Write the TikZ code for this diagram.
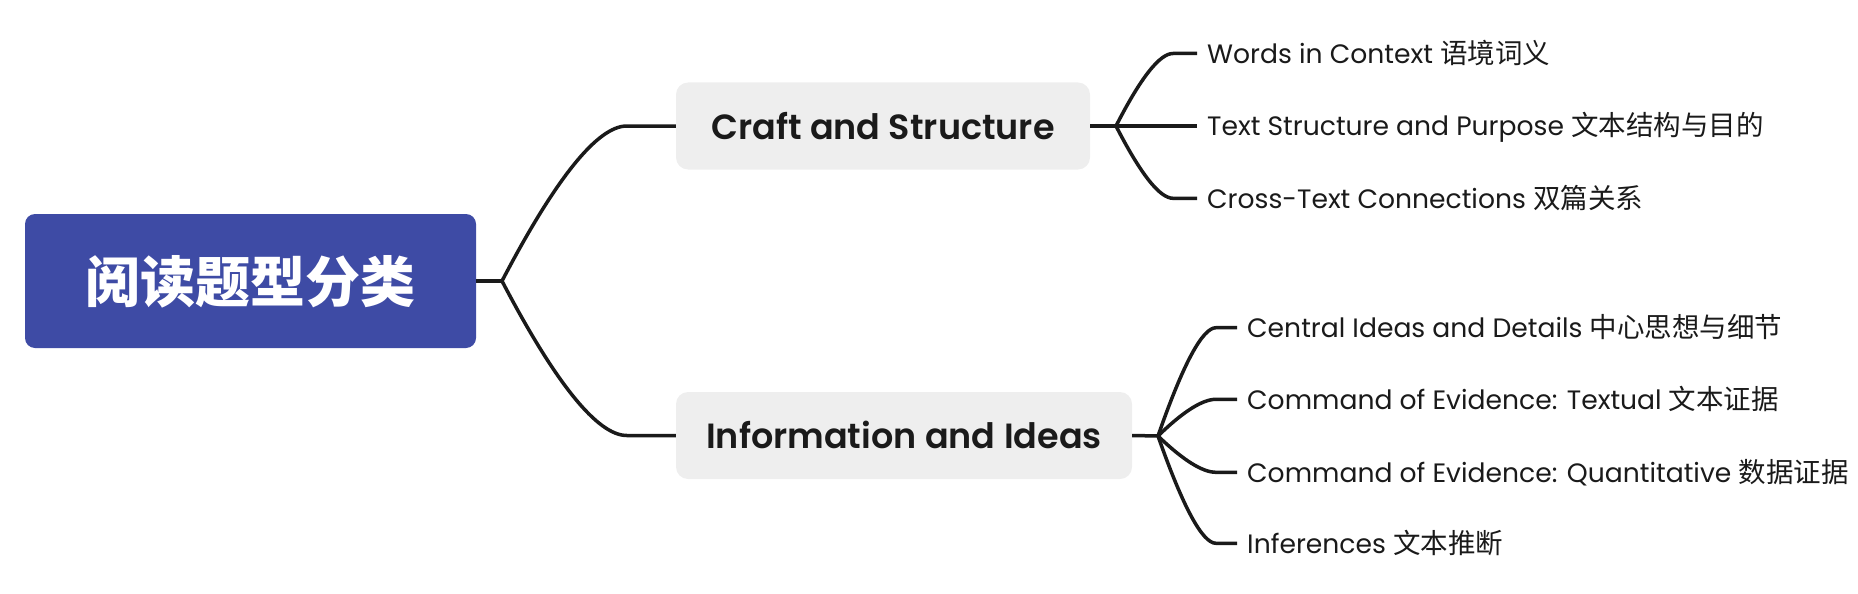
\documentclass[tikz,border=0pt]{standalone}
\usepackage{fontspec}
\setmainfont{Poppins}
\newfontfamily\headfont{Poppins SemiBold}
\newfontfamily\cjk{Noto Sans CJK SC}
\definecolor{rootblue}{HTML}{3E4BA5}
\definecolor{boxgrey}{HTML}{EEEEEE}
\definecolor{linec}{HTML}{1A1A1A}
\definecolor{textc}{HTML}{1A1A1A}
\newcommand{\zh}[1]{{\cjk\fontsize{27.5}{30}\selectfont #1}}
\tikzset{
  rootbox/.style={fill=rootblue, rounded corners=10pt, minimum width=451pt, minimum height=134pt,
    inner sep=0pt, text=white, font=\cjk\bfseries\fontsize{55}{60}\selectfont, text height=42pt, text depth=0pt},
  mainbox/.style={fill=boxgrey, rounded corners=12pt, minimum height=87pt, inner sep=0pt,
    text=textc, font=\headfont\fontsize{35}{40}\selectfont, text height=26pt, text depth=0pt},
  leaf/.style={anchor=west, inner xsep=10pt, inner ysep=0pt, text=textc,
    font=\fontsize{26.6}{30}\selectfont, text height=19.5pt, text depth=0pt},
  conn/.style={draw=linec, line width=3.5pt}
}
\begin{document}
\begin{tikzpicture}[x=1pt,y=-1pt]
\useasboundingbox (0,0) rectangle (1858,594);
% nodes
\node[rootbox] (root) at (250.5,281) {阅读题型分类};
\node[mainbox, minimum width=414pt] (craft) at (883,126) {Craft and Structure};
\node[mainbox, minimum width=456pt] (info) at (904,435.5) {Information and Ideas};
\coordinate (f0) at (502,281);
\coordinate (f1) at (1116,126);
\coordinate (f2) at (1158,436);
\node[leaf] (w1) at (1197,53.5) {Words in Context \zh{语境词义}};
\node[leaf] (w2) at (1197,126) {Text Structure and Purpose \zh{文本结构与目的}};
\node[leaf] (w3) at (1197,198.3) {Cross-Text Connections \zh{双篇关系}};
\node[leaf] (i1) at (1237,327.7) {Central Ideas and Details \zh{中心思想与细节}};
\node[leaf] (i2) at (1237,399.3) {Command of Evidence: Textual \zh{文本证据}};
\node[leaf] (i3) at (1237,472.3) {Command of Evidence: Quantitative \zh{数据证据}};
\node[leaf] (i4) at (1237,543.3) {Inferences \zh{文本推断}};
% connectors
\draw[conn] (root.east) -- (f0);
\draw[conn] (f0) .. controls +(54,-103.3) and +(-29,0) .. ([xshift=-49pt]craft.west) -- (craft.west);
\draw[conn] (f0) .. controls +(54,103.3) and +(-29,0) .. ([xshift=-49pt]info.west) -- (info.west);
\draw[conn] (craft.east) -- (f1);
\draw[conn] (f1) .. controls +(24.7,-48.3) and +(-13.3,0) .. ([xshift=-24pt]w1.west) -- (w1.west);
\draw[conn] (f1) -- (w2.west);
\draw[conn] (f1) .. controls +(24.7,48.2) and +(-13.3,0) .. ([xshift=-24pt]w3.west) -- (w3.west);
\draw[conn] (info.east) -- (f2);
\draw[conn] (f2) .. controls +(25.1,-72.2) and +(-13.5,0) .. ([xshift=-21pt]i1.west) -- (i1.west);
\draw[conn] (f2) .. controls +(25.1,-24.5) and +(-13.5,0) .. ([xshift=-21pt]i2.west) -- (i2.west);
\draw[conn] (f2) .. controls +(25.1,24.2) and +(-13.5,0) .. ([xshift=-21pt]i3.west) -- (i3.west);
\draw[conn] (f2) .. controls +(25.1,71.5) and +(-13.5,0) .. ([xshift=-21pt]i4.west) -- (i4.west);
\end{tikzpicture}
\end{document}
